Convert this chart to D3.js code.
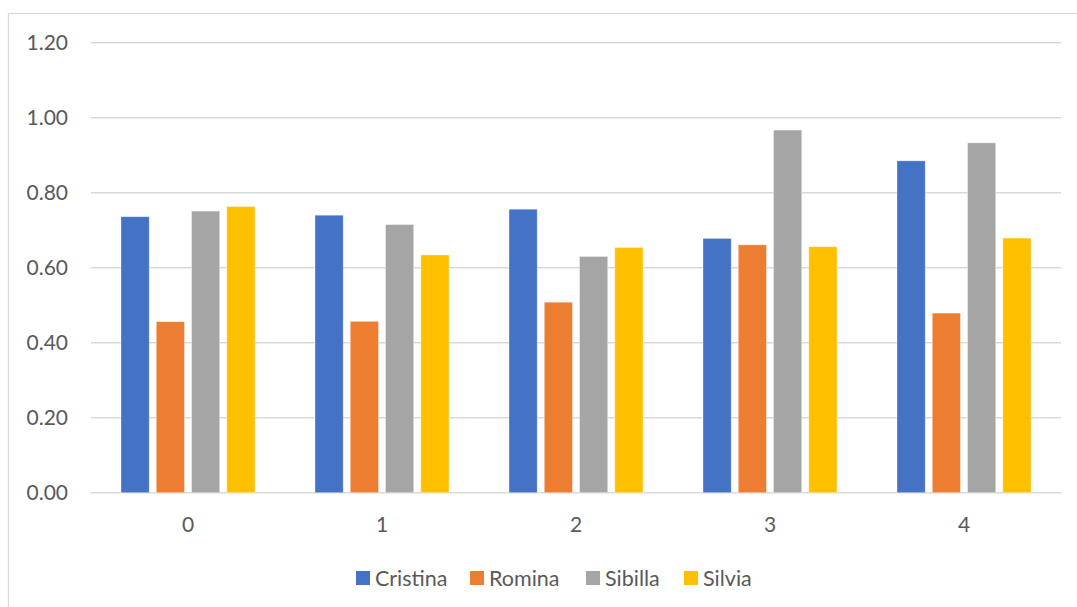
<!DOCTYPE html>
<html>
<head>
<meta charset="utf-8">
<script src="https://cdn.jsdelivr.net/npm/d3@7"></script>
<style>
  html, body { margin: 0; padding: 0; background: #fff; }
  svg { display: block; }
  text { font-family: Lato, "Open Sans", sans-serif; fill: #595959; }
</style>
</head>
<body>
<svg id="chart" width="1077" height="607"></svg>
<script>
// Category labels along the x axis
const categories = ["0", "1", "2", "3", "4"];
// Series names and colours
const seriesNames = ["Cristina", "Romina", "Sibilla", "Silvia"];
const seriesColors = ["#4472C4", "#ED7D31", "#A5A5A5", "#FFC000"];
// Values per series, one per category
const cristina = [0.736, 0.740, 0.756, 0.678, 0.885];
const romina   = [0.456, 0.457, 0.508, 0.661, 0.479];
const sibilla  = [0.751, 0.715, 0.630, 0.967, 0.933];
const silvia   = [0.763, 0.634, 0.654, 0.656, 0.679];
// Y axis ticks
const yTicks = [0, 0.2, 0.4, 0.6, 0.8, 1.0, 1.2];

const seriesValues = [cristina, romina, sibilla, silvia];

const svg = d3.select("#chart");
const W = 1077, H = 607;

// Outer chart frame
svg.append("rect")
  .attr("x", 8.5).attr("y", 13.5)
  .attr("width", W + 10).attr("height", H + 10)
  .attr("fill", "none").attr("stroke", "#d9d9d9").attr("stroke-width", 1.3);

const plot = { left: 91, right: 1061, top: 42.7, bottom: 492.7 };

const x = d3.scaleBand().domain(categories)
  .range([plot.left, plot.right]).paddingInner(0).paddingOuter(0);
const y = d3.scaleLinear().domain([0, 1.2]).range([plot.bottom, plot.top]);

// Within a category: four bars with small gaps, and wide outer margins
const groupWidth = 134;
const xs = d3.scaleBand().domain(seriesNames)
  .range([0, groupWidth]).paddingInner(0.2).paddingOuter(0);

// Horizontal gridlines
svg.append("g").selectAll("line").data(yTicks).join("line")
  .attr("x1", plot.left).attr("x2", plot.right)
  .attr("y1", d => y(d)).attr("y2", d => y(d))
  .attr("stroke", "#d9d9d9").attr("stroke-width", 1.4);

// Y tick labels
svg.append("g").selectAll("text").data(yTicks).join("text")
  .attr("x", 68).attr("y", d => y(d))
  .attr("dy", "0.36em")
  .attr("text-anchor", "end")
  .style("font-size", "21px")
  .text(d => d3.format(".2f")(d));

// Bars
const groups = svg.append("g").selectAll("g").data(categories).join("g")
  .attr("transform", c => `translate(${x(c) + (x.bandwidth() - groupWidth) / 2},0)`);

groups.each(function (c, ci) {
  d3.select(this).selectAll("rect")
    .data(seriesNames.map((s, si) => ({ s, si, v: seriesValues[si][ci] })))
    .join("rect")
    .attr("x", d => xs(d.s))
    .attr("y", d => y(d.v))
    .attr("width", xs.bandwidth())
    .attr("height", d => y(0) - y(d.v))
    .attr("fill", d => seriesColors[d.si])
    .attr("stroke", "#fff").attr("stroke-opacity", 0.45).attr("stroke-width", 0.8);
});

// X category labels
svg.append("g").selectAll("text").data(categories).join("text")
  .attr("x", c => x(c) + x.bandwidth() / 2)
  .attr("y", 532)
  .attr("text-anchor", "middle")
  .style("font-size", "21px")
  .text(c => c);

// Legend
const legendX = [356, 470, 586, 684];
const legend = svg.append("g").selectAll("g").data(seriesNames).join("g")
  .attr("transform", (d, i) => `translate(${legendX[i]},571)`);
legend.append("rect")
  .attr("width", 14).attr("height", 14)
  .attr("fill", (d, i) => seriesColors[i]);
legend.append("text")
  .attr("x", 19).attr("y", 14.5)
  .style("font-size", "21.5px")
  .text(d => d);
</script>
</body>
</html>
